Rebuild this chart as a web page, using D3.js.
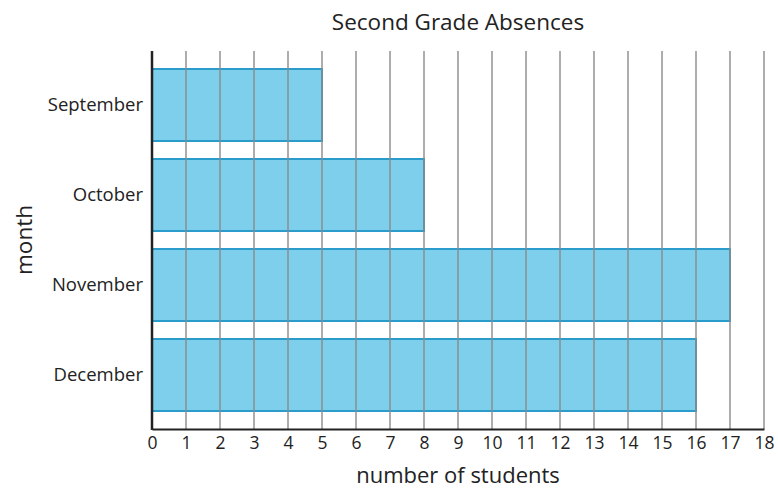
<!DOCTYPE html>
<html><head><meta charset="utf-8">
<script src="https://cdn.jsdelivr.net/npm/d3@7"></script>
<style>body{margin:0;background:#fff}text{font-family:"Open Sans",sans-serif;fill:#222}</style>
</head><body><svg id="c" width="778" height="489"></svg>
<script>
const months = ["September","October","November","December"];
const values = [5, 8, 17, 16];
const xTicks = d3.range(0, 19);
const title = "Second Grade Absences";
const xLabel = "number of students";
const yLabel = "month";

const svg = d3.select("#c");
const x = d3.scaleLinear().domain([0,18]).range([152,764]);
const y = d3.scaleBand().domain(months).range([60,420]).paddingInner(0.2).paddingOuter(0.1);

svg.selectAll("rect.bar").data(months).enter().append("rect")
  .attr("x", x(0)).attr("y", d=>y(d))
  .attr("width", (d,i)=>x(values[i])-x(0)).attr("height", y.bandwidth())
  .attr("fill","#7ecfeb").attr("stroke","#2a9ccb").attr("stroke-width",2);

svg.selectAll("line.grid").data(xTicks.filter(d=>d>0)).enter().append("line")
  .attr("x1", d=>x(d)).attr("x2", d=>x(d)).attr("y1",51).attr("y2",429)
  .attr("stroke","#8a8a8a").attr("stroke-opacity",0.7).attr("stroke-width",2);

const xa = svg.append("g").attr("transform","translate(0,429)")
  .call(d3.axisBottom(x).tickValues(xTicks).tickFormat(d3.format("d")).tickSize(0).tickPadding(8));
xa.select(".domain").attr("stroke","#222").attr("stroke-width",2);
xa.selectAll("text").style("font-size","17.5px").style("font-family","Open Sans").attr("fill","#222");

const ya = svg.append("g").attr("transform","translate(152,0)")
  .call(d3.axisLeft(y).tickSize(0).tickPadding(9));
ya.select(".domain").remove();
ya.selectAll("text").style("font-size","18.5px").style("font-family","Open Sans").attr("fill","#222");
svg.append("line").attr("x1",152).attr("x2",152).attr("y1",51).attr("y2",430)
  .attr("stroke","#222").attr("stroke-width",2.5);

svg.append("text").attr("x",458).attr("y",30).attr("text-anchor","middle").style("font-size","22.5px").text(title);
svg.append("text").attr("x",458).attr("y",483).attr("text-anchor","middle").style("font-size","22px").text(xLabel);
svg.append("text").attr("transform","translate(32,240) rotate(-90)").attr("text-anchor","middle").style("font-size","22.5px").text(yLabel);
</script></body></html>
